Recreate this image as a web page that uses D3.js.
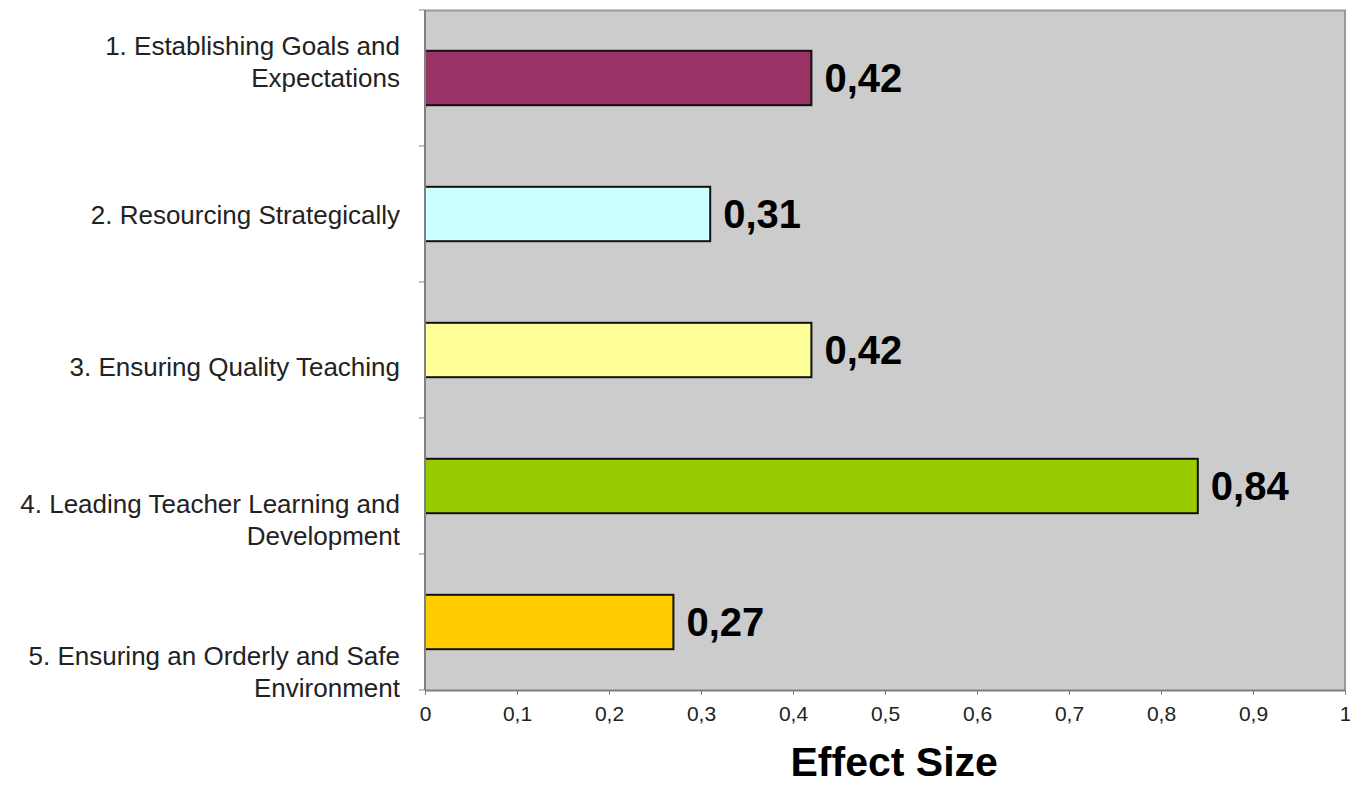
<!DOCTYPE html>
<html>
<head>
<meta charset="utf-8">
<script src="https://cdn.jsdelivr.net/npm/d3@7"></script>
<style>
    body { margin: 0; background: #fff; }
    text { font-family: "Liberation Sans", Arial, sans-serif; }
</style>
</head>
<body>
<svg id="chart" width="1350" height="786"></svg>
<script>
// data
const categories = [
    ['1. Establishing Goals and', 'Expectations'],
    ['2. Resourcing Strategically'],
    ['3. Ensuring Quality Teaching'],
    ['4. Leading Teacher Learning and', 'Development'],
    ['5. Ensuring an Orderly and Safe', 'Environment']
];
const effectSizes = [0.42, 0.31, 0.42, 0.84, 0.27];
const barColors = ['#993366', '#CCFFFF', '#FFFF99', '#99CC00', '#FFCC00'];
const xTicks = [0, 0.1, 0.2, 0.3, 0.4, 0.5, 0.6, 0.7, 0.8, 0.9, 1];
const axisTitle = 'Effect Size';

const settings = {
    xMax: 1350,
    yMax: 786,
    margins: { left: 425, right: 5, top: 10, bottom: 96 }
};

function getChartWidth(p) {
    return p.xMax - (p.margins.left + p.margins.right);
}
function getChartHeight(p) {
    return p.yMax - (p.margins.top + p.margins.bottom);
}

const locale = d3.formatLocale({ decimal: ',', thousands: '.', grouping: [3], currency: ['', ''] });
const fmtTick = (d) => d === 0 || d === 1 ? String(d) : locale.format('.1f')(d);
const fmtValue = locale.format('.2f');

const svg = d3.select('#chart');
const w = getChartWidth(settings);
const h = getChartHeight(settings);
const idx = d3.range(categories.length);

const xScale = d3.scaleLinear().domain([0, 1]).range([0, w]);
const yScale = d3.scaleBand().domain(idx).range([0, h]).paddingInner(0.6).paddingOuter(0.3);
// category labels sit on their own spacing, as in the original
const labelScale = d3.scalePoint().domain(idx).range([52, 662]);

const chart = svg.append('g')
    .attr('transform', `translate(${settings.margins.left} ${settings.margins.top})`);

// plot background
chart.append('rect')
    .attr('width', w).attr('height', h)
    .attr('fill', '#cccccc');
// top and right frame
chart.append('path')
    .attr('d', `M0,0.5H${w}V${h}`)
    .attr('fill', 'none').attr('stroke', '#999').attr('stroke-width', 2);

// bars
chart.selectAll('.bar').data(effectSizes).enter().append('rect')
    .attr('class', 'bar')
    .attr('x', 0)
    .attr('y', (d, i) => yScale(i))
    .attr('width', (d) => xScale(d))
    .attr('height', yScale.bandwidth())
    .attr('fill', (d, i) => barColors[i])
    .attr('stroke', '#111')
    .attr('stroke-width', 2);

// value labels
chart.selectAll('.val').data(effectSizes).enter().append('text')
    .attr('class', 'val')
    .attr('x', (d) => xScale(d) + 13)
    .attr('y', (d, i) => yScale(i) + yScale.bandwidth() / 2)
    .attr('dy', '0.36em')
    .style('font-size', '40px')
    .style('font-weight', 'bold')
    .attr('fill', '#000')
    .text((d) => fmtValue(d));

// x axis
const xAxis = chart.append('g')
    .attr('transform', `translate(0 ${h})`)
    .call(d3.axisBottom(xScale).tickValues(xTicks).tickFormat(fmtTick).tickSizeOuter(0).tickSizeInner(5).tickPadding(11));
xAxis.select('.domain').attr('stroke', '#808080').attr('stroke-width', 2);
xAxis.selectAll('.tick line').attr('stroke', '#808080');
xAxis.selectAll('.tick text').style('font-size', '21px').attr('fill', '#222');

// y axis: ticks on band boundaries
const yBounds = d3.range(categories.length + 1).map((i) => i * h / categories.length);
const yAxis = chart.append('g');
yAxis.append('line')
    .attr('x1', 0).attr('x2', 0).attr('y1', 0).attr('y2', h)
    .attr('stroke', '#808080').attr('stroke-width', 2);
yAxis.selectAll('.ytick').data(yBounds).enter().append('line')
    .attr('class', 'ytick')
    .attr('x1', -6).attr('x2', 0)
    .attr('y1', (d) => d).attr('y2', (d) => d)
    .attr('stroke', '#808080');

// category labels
const labels = chart.selectAll('.cat').data(categories).enter().append('text')
    .attr('class', 'cat')
    .attr('text-anchor', 'end')
    .attr('x', -25)
    .attr('y', (d, i) => labelScale(i))
    .style('font-size', '26px')
    .attr('fill', '#222');
labels.selectAll('tspan').data((d) => d.map((t, j) => ({ t, j, n: d.length }))).enter().append('tspan')
    .attr('x', -25)
    .attr('dy', (d) => d.j === 0 ? 9 - (d.n - 1) * 16 : 32)
    .text((d) => d.t);

// axis title
svg.append('text')
    .attr('x', settings.margins.left + xScale(0.51))
    .attr('y', 776)
    .attr('text-anchor', 'middle')
    .style('font-size', '41px')
    .style('font-weight', 'bold')
    .attr('fill', '#000')
    .text(axisTitle);
</script>
</body>
</html>
